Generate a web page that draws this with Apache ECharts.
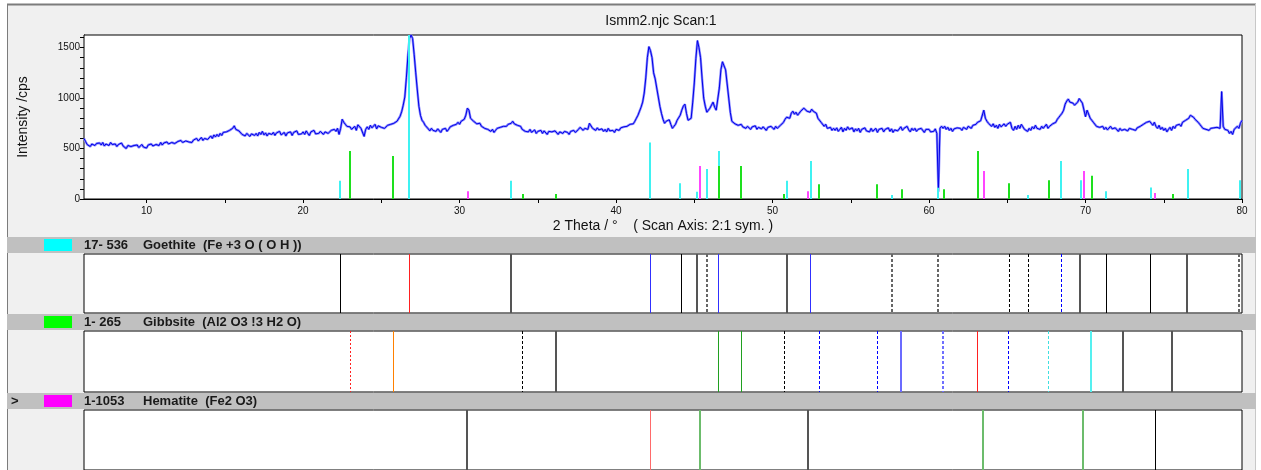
<!DOCTYPE html>
<html><head><meta charset="utf-8">
<script src="https://cdn.jsdelivr.net/npm/echarts@6/dist/echarts.min.js"></script>
<style>html,body{margin:0;padding:0;background:#fff}#c{width:1261px;height:470px}</style>
</head><body><div id="c"></div>
<script>
// ---------- DATA ----------
const chartTitle = 'Ismm2.njc Scan:1';
const xAxisName = '2 Theta / °    ( Scan Axis: 2:1 sym. )';
const yAxisName = 'Intensity /cps';
const xLabelValues = [10, 20, 30, 40, 50, 60, 70, 80];
const xTickValues = [10, 15, 20, 25, 30, 35, 40, 45, 50, 55, 60, 65, 70, 75, 80];
const yLabelValues = [0, 500, 1000, 1500];
const yTickValues = [0, 100, 200, 300, 400, 500, 600, 700, 800, 900, 1000, 1100, 1200, 1300, 1400, 1500, 1600];

// scan: 2theta from 6.0 to 80.0 in steps of 0.1 deg, counts per step
const scanStart = 6.0;
const scanStep = 0.1;
const scanCounts = [
600,570,540,555,520,545,560,530,550,540,
555,535,560,525,545,550,530,560,540,535,
545,520,540,530,555,525,535,500,530,545,
520,505,530,515,535,510,525,540,515,530,
505,535,520,545,525,515,540,550,530,560,
535,555,540,565,545,530,560,575,550,545,
570,555,580,560,545,575,590,565,580,560,
585,570,600,575,590,610,580,600,615,590,
605,625,600,635,615,640,620,650,630,660,
645,665,650,680,670,700,725,690,705,675,
660,640,655,625,650,635,620,645,660,630,
650,625,660,640,670,635,655,625,650,665,
640,660,630,655,645,670,635,650,660,625,
655,640,665,630,660,650,675,640,655,645,
665,640,675,650,630,665,655,680,645,660,
650,670,655,640,665,675,650,660,680,665,
690,670,700,640,700,790,760,740,720,705,
715,690,700,720,680,735,720,700,710,620,
690,715,690,730,705,720,740,695,725,735,
710,725,700,715,730,720,740,735,750,760,
770,785,820,865,930,1010,1200,1420,1590,1625,
1590,1430,1250,1080,920,830,780,760,730,715,
695,675,700,680,690,670,695,685,660,690,
680,700,670,690,715,700,730,720,740,760,
740,770,760,790,830,900,880,800,790,770,
760,745,735,750,720,735,700,715,690,705,
670,690,660,680,700,690,710,700,720,705,
720,740,725,750,770,745,760,730,715,720,
690,705,670,680,665,690,660,675,685,650,
670,655,680,650,675,660,640,670,655,665,
650,675,660,640,665,680,650,670,655,660,
640,670,655,680,660,675,690,710,695,680,
700,715,690,750,735,700,710,680,705,685,
680,695,670,690,665,700,675,690,680,660,
690,700,680,705,690,715,700,720,710,740,
735,745,770,800,830,870,910,960,1050,1200,
1400,1510,1470,1400,1250,1190,1100,1010,920,850,
790,750,770,760,785,740,700,720,740,780,
790,830,880,920,940,850,780,790,800,960,
1150,1390,1570,1500,1400,1190,1000,920,860,880,
900,930,960,910,880,990,1100,1280,1360,1350,
1280,1140,1000,860,770,760,745,750,730,720,
740,715,730,700,720,705,690,715,700,725,
690,710,720,695,715,700,680,710,695,720,
705,690,720,700,710,730,720,760,790,810,
820,800,850,870,840,860,830,850,870,880,
900,910,870,880,860,890,870,880,850,800,
790,760,750,720,740,700,690,710,680,700,
680,705,670,690,710,665,700,680,715,690,
680,705,665,695,675,700,660,690,680,705,
675,690,665,700,670,685,700,660,690,675,
700,665,690,680,705,670,695,660,685,700,
675,690,715,680,700,690,720,685,665,700,
680,700,670,690,675,700,685,660,690,675,
690,665,680,670,695,650,72,700,720,700,
720,690,710,680,700,670,695,685,705,690,
700,680,710,695,690,720,705,700,730,745,
740,760,750,775,790,880,800,770,750,735,
720,745,710,730,700,740,715,725,745,720,
740,725,760,700,680,720,690,730,700,740,
715,690,705,670,700,680,715,695,730,700,
710,690,720,700,715,740,700,720,730,745,
750,760,790,810,830,850,880,940,970,990,
960,975,950,930,915,960,995,990,950,960,
815,880,890,800,780,760,745,720,735,710,
700,720,690,710,685,700,720,695,680,705,
690,670,700,680,665,690,705,675,700,685,
690,700,680,705,690,720,705,740,730,760,
745,770,750,730,760,720,700,730,690,710,
680,700,665,690,710,680,720,700,730,715,
740,720,760,750,780,770,800,830,820,810,
790,800,760,740,720,700,715,690,705,680,
700,685,705,690,710,695,700,1065,720,690,
700,680,650,670,640,690,680,720,700,750,
780
];

// reference stick patterns in the main plot (2theta, height in cps)
const goethiteTheta = [22.38,26.77,33.28,42.17,44.10,45.17,45.81,46.55,50.92,52.43,57.63,60.59,66.34,68.45,69.71,71.32,74.16,76.54,79.87];
const goethiteHeight = [180,1625,181,561,155,72,297,475,181,376,40,112,40,376,185,76,115,297,185];
const gibbsiteTheta = [23.02,25.77,34.05,36.16,46.55,47.98,50.75,52.98,56.69,58.27,60.97,63.14,65.08,67.64,70.39,75.60];
const gibbsiteHeight = [475,425,50,50,327,327,50,145,145,96,96,475,155,185,231,50];
const hematiteTheta = [30.52,45.36,52.24,63.51,69.90,74.45];
const hematiteHeight = [76,327,76,277,277,60];

// phase panels: reference line positions and their line class
const goethiteRefTheta = [22.38,26.74,33.26,42.15,44.12,45.18,45.79,46.54,50.93,52.42,57.63,60.56,65.10,66.30,68.41,69.64,71.28,74.10,76.47,79.80];
const goethiteRefKind  = ['k','r','g','b','k','g','gd','b','g','b','gd','gd','kd','kd','bd','g','k','k','g','gd'];
const gibbsiteRefTheta = [23.02,25.77,34.00,36.14,46.54,47.98,50.72,52.98,56.68,58.22,60.91,63.09,65.02,67.61,70.36,72.37,75.55];
const gibbsiteRefKind  = ['rd','o','kd','g','gr','gr','kd','bd','bd','bl','bld','r','bd','cd','c','g','g'];
const hematiteRefTheta = [30.49,42.15,45.35,52.24,63.48,69.85,74.42];
const hematiteRefKind  = ['g','rl','grl','g','grl','grl','k'];

const phaseCodes = ['17- 536', '1- 265', '1-1053'];
const phaseNames = ['Goethite', 'Gibbsite', 'Hematite'];
const phaseFormulas = ['(Fe +3 O ( O H ))', '(Al2 O3 !3 H2 O)', '(Fe2 O3)'];

// ---------- STYLES ----------
const stickColors = ['#3ff2f2', '#1ee01e', '#ff45ff'];
const phaseColors = ['#00ffff', '#00ff00', '#ff00ff'];
const kinds = {
  k:   {c:'#000000', w:1},
  kd:  {c:'#000000', w:1, d:[3,2]},
  g:   {c:'#555555', w:2},
  gd:  {c:'#666666', w:2, d:[3,2]},
  r:   {c:'#ff2020', w:1},
  rd:  {c:'#ff2020', w:1, d:[2,2]},
  rl:  {c:'#ff6a6a', w:1},
  o:   {c:'#ff8000', w:1},
  b:   {c:'#3030ff', w:1},
  bd:  {c:'#0000ff', w:1, d:[3,2]},
  bl:  {c:'#6b6bff', w:2},
  bld: {c:'#7070ff', w:2, d:[3,2]},
  c:   {c:'#55f0f0', w:2},
  cd:  {c:'#40e0e0', w:1, d:[3,2]},
  gr:  {c:'#20a020', w:1},
  grl: {c:'#6cbc6c', w:2}
};

const scanData = scanCounts.map((v, i) => [+(scanStart + i * scanStep).toFixed(2), v]);

function stickSeries(thetas, heights, color) {
  return {
    type: 'custom', xAxisIndex: 0, yAxisIndex: 0, z: 4, clip: true, silent: true,
    data: thetas.map((t, i) => [t, heights[i]]),
    renderItem: (params, api) => {
      const p0 = api.coord([api.value(0), 0]);
      const p1 = api.coord([api.value(0), api.value(1)]);
      const x = Math.round(p0[0]);
      return {type: 'line', shape: {x1: x, y1: p0[1], x2: x, y2: p1[1]}, style: {stroke: color, lineWidth: 2}};
    }
  };
}
function panelSeries(idx, thetas, kindList) {
  return {
    type: 'custom', xAxisIndex: idx, yAxisIndex: idx, z: 4, clip: true, silent: true,
    data: thetas.map((t) => [t]),
    renderItem: (params, api) => {
      const k = kinds[kindList[params.dataIndex]];
      const pTop = api.coord([api.value(0), 1]);
      const pBot = api.coord([api.value(0), 0]);
      const x = Math.round(pTop[0]) + (k.w % 2 === 1 ? 0.5 : 0);
      return {type: 'line', shape: {x1: x, y1: pTop[1], x2: x, y2: pBot[1]},
        style: {stroke: k.c, lineWidth: k.w, lineDash: k.d || null}};
    }
  };
}

const L = 84, PW = 1158;
const panelTops = [254, 331, 410];
const panelHeights = [59, 61, 70];
const headerTops = [237, 314, 393];

const grid = [{left: L, top: 35, width: PW, height: 164, show: true, borderColor: '#000', borderWidth: 1, backgroundColor: '#fff', z: 1}];
panelTops.forEach((t, i) => grid.push({left: L, top: t, width: PW, height: panelHeights[i], show: true, borderColor: '#000', borderWidth: 1, backgroundColor: '#fff', z: 1}));

const font = '"Liberation Sans", Arial, sans-serif';
const xAxis = [{
  gridIndex: 0, type: 'value', min: 6, max: 80,
  axisLine: {show: true, onZero: false, lineStyle: {color: '#000'}},
  axisTick: {show: true, customValues: xTickValues, length: 4, lineStyle: {color: '#000'}},
  axisLabel: {customValues: xLabelValues, fontSize: 10, color: '#111', margin: 7, fontFamily: font, formatter: (v) => String(v)},
  splitLine: {show: false},
  name: xAxisName, nameLocation: 'middle', nameGap: 20,
  nameTextStyle: {fontSize: 14, color: '#111', fontFamily: font}
}];
const yAxis = [{
  gridIndex: 0, type: 'value', min: 0, max: 1625,
  axisLine: {show: true, lineStyle: {color: '#000'}},
  axisTick: {show: true, customValues: yTickValues, length: 4, lineStyle: {color: '#000'}},
  axisLabel: {customValues: yLabelValues, fontSize: 10, color: '#111', margin: 4, fontFamily: font, formatter: (v) => String(v)},
  splitLine: {show: false},
  name: yAxisName, nameLocation: 'middle', nameGap: 54,
  nameTextStyle: {fontSize: 14, color: '#111', fontFamily: font}
}];
for (let i = 1; i <= 3; i++) {
  xAxis.push({gridIndex: i, type: 'value', min: 6, max: 80, show: false, splitLine: {show: false}});
  yAxis.push({gridIndex: i, type: 'value', min: 0, max: 1, show: false, splitLine: {show: false}});
}

const graphicEls = [
  {type: 'rect', z: 0, shape: {x: 7, y: 4, width: 1249, height: 233}, style: {fill: '#f0f0f0'}},
  {type: 'rect', z: 0, shape: {x: 7, y: 237, width: 1249, height: 233}, style: {fill: '#f0f0f0'}},
  {type: 'line', z: 0, shape: {x1: 7, y1: 4.5, x2: 1256, y2: 4.5}, style: {stroke: '#7c7c7c', lineWidth: 2}},
  {type: 'line', z: 0, shape: {x1: 7.5, y1: 4, x2: 7.5, y2: 470}, style: {stroke: '#7c7c7c', lineWidth: 1}},
  {type: 'line', z: 0, shape: {x1: 1255.5, y1: 4, x2: 1255.5, y2: 470}, style: {stroke: '#c8c8c8', lineWidth: 1}},
  {type: 'text', z: 10, x: 661, y: 21, style: {text: chartTitle, font: '14px ' + font, fill: '#111', textAlign: 'center', textVerticalAlign: 'middle'}}
];
headerTops.forEach((t, i) => {
  graphicEls.push({type: 'rect', z: 0, shape: {x: 7, y: t, width: 1249, height: 16}, style: {fill: '#c0c0c0'}});
  graphicEls.push({type: 'rect', z: 10, shape: {x: 44, y: t + 2, width: 28, height: 12}, style: {fill: phaseColors[i]}});
  graphicEls.push({type: 'text', z: 10, x: 84, y: t + 8, style: {text: phaseCodes[i], font: 'bold 13px ' + font, fill: '#1a1a1a', textAlign: 'left', textVerticalAlign: 'middle'}});
  graphicEls.push({type: 'text', z: 10, x: 143, y: t + 8, style: {text: phaseNames[i] + '  ' + phaseFormulas[i], font: 'bold 13px ' + font, fill: '#1a1a1a', textAlign: 'left', textVerticalAlign: 'middle'}});
});
graphicEls.push({type: 'text', z: 10, x: 11, y: headerTops[2] + 8, style: {text: '>', font: 'bold 13px ' + font, fill: '#1a1a1a', textAlign: 'left', textVerticalAlign: 'middle'}});

const series = [
  {type: 'line', xAxisIndex: 0, yAxisIndex: 0, data: scanData, showSymbol: false, symbol: 'none', z: 2, clip: true,
   lineStyle: {color: '#8a8aff', width: 2.4}, silent: true},
  {type: 'line', xAxisIndex: 0, yAxisIndex: 0, data: scanData, showSymbol: false, symbol: 'none', z: 3, clip: true,
   lineStyle: {color: '#0000e6', width: 1}, silent: true},
  stickSeries(goethiteTheta, goethiteHeight, stickColors[0]),
  stickSeries(gibbsiteTheta, gibbsiteHeight, stickColors[1]),
  stickSeries(hematiteTheta, hematiteHeight, stickColors[2]),
  panelSeries(1, goethiteRefTheta, goethiteRefKind),
  panelSeries(2, gibbsiteRefTheta, gibbsiteRefKind),
  panelSeries(3, hematiteRefTheta, hematiteRefKind)
];

const chart = echarts.init(document.getElementById('c'), null, {renderer: 'canvas'});
chart.setOption({
  animation: false,
  backgroundColor: '#fff',
  grid, xAxis, yAxis, series,
  graphic: {elements: graphicEls}
});
</script></body></html>
